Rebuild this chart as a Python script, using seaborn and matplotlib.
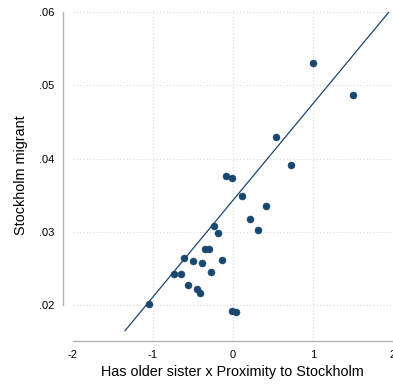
import numpy as np
import pandas as pd
import matplotlib
matplotlib.use("Agg")
import matplotlib.pyplot as plt
import seaborn as sns

# Binned means: older-sister x proximity interaction vs. share migrating to Stockholm
bin_x = [-1.05, -0.74, -0.65, -0.61, -0.56, -0.50, -0.45, -0.41, -0.38,
         -0.35, -0.30, -0.27, -0.23, -0.18, -0.13, -0.08, -0.01, -0.01,
         0.04, 0.12, 0.22, 0.31, 0.41, 0.54, 0.73, 1.00, 1.50]
bin_y = [0.0202, 0.0242, 0.0242, 0.0265, 0.0228, 0.0260, 0.0222, 0.0216, 0.0257,
         0.0277, 0.0276, 0.0245, 0.0308, 0.0299, 0.0261, 0.0376, 0.0374, 0.0192,
         0.0191, 0.0349, 0.0317, 0.0302, 0.0336, 0.0430, 0.0391, 0.0531, 0.0487]

# Linear fit endpoints
fit_x = [-1.35, 1.95]
fit_y = [0.0165, 0.0600]

x_ticks = [-2, -1, 0, 1, 2]
x_tick_labels = ["-2", "-1", "0", "1", "2"]
y_ticks = [0.02, 0.03, 0.04, 0.05, 0.06]
y_tick_labels = [".02", ".03", ".04", ".05", ".06"]

x_label = "Has older sister x Proximity to Stockholm"
y_label = "Stockholm migrant"

navy = "#1a476f"
axis_grey = "#b4b4b4"

sns.set_theme(style="white")
plt.rcParams["font.family"] = ["Liberation Sans", "DejaVu Sans"]

points = pd.DataFrame({"x": bin_x, "y": bin_y})
fit = pd.DataFrame({"x": fit_x, "y": fit_y})

fig = plt.figure(figsize=(3.93, 3.85), dpi=100)
ax = fig.add_axes([73 / 393, 44 / 385, 319.7 / 393, 332.4 / 385])

sns.lineplot(data=fit, x="x", y="y", ax=ax, color=navy, linewidth=0.9, zorder=3)
sns.scatterplot(data=points, x="x", y="y", ax=ax, color=navy, s=26,
                edgecolor=navy, linewidth=0.3, zorder=4)

ax.set_xlim(-2, 2)
ax.set_ylim(0.0151, 0.0605)
ax.set_xticks(x_ticks)
ax.set_xticklabels(x_tick_labels)
ax.set_yticks(y_ticks)
ax.set_yticklabels(y_tick_labels)

# dotted grid at interior ticks
for xv in x_ticks[1:-1]:
    ax.axvline(xv, color="#d9d9d9", linestyle=(0, (1, 2)), linewidth=0.8, zorder=1)
for yv in y_ticks:
    ax.axhline(yv, color="#d9d9d9", linestyle=(0, (1, 2)), linewidth=0.8, zorder=1)

sns.despine(ax=ax)
ax.spines["left"].set_position(("outward", 7.2))
ax.spines["left"].set_bounds(0.02, 0.06)
ax.spines["bottom"].set_bounds(-2, 2)
for side in ("left", "bottom"):
    ax.spines[side].set_color(axis_grey)
    ax.spines[side].set_linewidth(1.0)

ax.tick_params(axis="both", which="major", direction="out", length=3.6,
               width=0.9, color=axis_grey, labelsize=8, labelcolor="black", pad=2.5)
ax.tick_params(axis="x", pad=3)

ax.set_xlabel(x_label, fontsize=10.4, labelpad=3.5, color="black")
ax.set_ylabel(y_label, fontsize=10.4, labelpad=8, color="black")

fig.savefig("out.png", dpi=100)
